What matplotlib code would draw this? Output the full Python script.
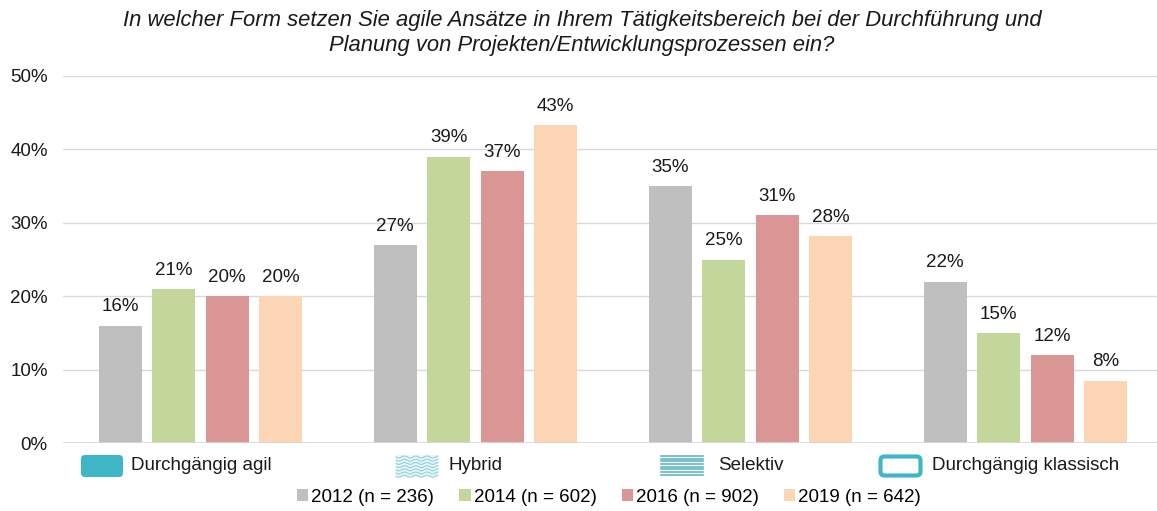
import matplotlib
matplotlib.use("Agg")
import matplotlib.pyplot as plt
import numpy as np
from matplotlib.patches import FancyBboxPatch, Rectangle

plt.rcParams["font.family"] = ["Liberation Sans", "DejaVu Sans"]

TITLE = ("In welcher Form setzen Sie agile Ansätze in Ihrem Tätigkeitsbereich bei der Durchführung und\n"
         "Planung von Projekten/Entwicklungsprozessen ein?")

categories = ["Durchgängig agil", "Hybrid", "Selektiv", "Durchgängig klassisch"]
series = ["2012 (n = 236)", "2014 (n = 602)", "2016 (n = 902)", "2019 (n = 642)"]
values_2012 = [16, 27, 35, 22]
values_2014 = [21, 39, 25, 15]
values_2016 = [20, 37, 31, 12]
values_2019 = [20, 43.3, 28.2, 8.5]
labels_2019 = ["20%", "43%", "28%", "8%"]

COLORS = ["#BFBFBF", "#C4D79B", "#D99694", "#FCD5B5"]
TEAL = "#3FB6C6"
FS = 13.5

W, H = 1157, 511
fig = plt.figure(figsize=(W / 100, H / 100), dpi=100)
fig.patch.set_facecolor("white")

ax = fig.add_axes([63 / W, (H - 443) / H, 1100 / W, 367 / H])
x = np.arange(len(categories))
step, width = 0.1945, 0.158
all_vals = [values_2012, values_2014, values_2016, values_2019]
for i, (vals, col, name) in enumerate(zip(all_vals, COLORS, series)):
    pos = x + (i - 1.5) * step
    bars = ax.bar(pos, vals, width=width, color=col, label=name, zorder=3)
    if i == 3:
        labs = labels_2019
    else:
        labs = [f"{v:.0f}%" for v in vals]
    for b, lab in zip(bars, labs):
        ax.text(b.get_x() + b.get_width() / 2, b.get_height() + 1.4, lab,
                ha="center", va="bottom", fontsize=FS, color="#1a1a1a")

ax.set_xlim(-0.5, 3.5)
ax.set_ylim(0, 50)
ax.set_yticks(range(0, 51, 10))
ax.set_yticklabels([f"{t}%" for t in range(0, 51, 10)], fontsize=FS, color="#1a1a1a")
ax.set_xticks([])
ax.tick_params(axis="y", length=0, pad=11)
ax.grid(axis="y", color="#D9D9D9", linewidth=1, zorder=0)
for s in ax.spines.values():
    s.set_visible(False)
ax.axhline(0, color="#D9D9D9", linewidth=1.2, zorder=4)

fig.text(582 / W, 1 - 33 / H, TITLE, ha="center", va="center", fontsize=15.8,
         style="italic", linespacing=1.22, color="#1a1a1a")

# category icons in pixel coordinates
ov = fig.add_axes([0, 0, 1, 1], zorder=5)
ov.set_xlim(0, W)
ov.set_ylim(H, 0)
ov.axis("off")
ov.patch.set_alpha(0)

y0, y1 = 455, 477
icons = [(81, 123, 131), (396, 438, 449), (661, 703, 718), (879, 922, 932)]

# Durchgängig agil: solid
ov.add_patch(FancyBboxPatch((icons[0][0], y0), icons[0][1] - icons[0][0], y1 - y0,
                            boxstyle="round,pad=0,rounding_size=4", fc=TEAL, ec="none"))
# Hybrid: wavy pattern
xa, xb = icons[1][0], icons[1][1]
ov.add_patch(Rectangle((xa, y0), xb - xa, y1 - y0, fc="#EAF6F8", ec="none"))
xs = np.linspace(xa, xb, 60)
for yy in np.arange(y0 + 2, y1, 3.2):
    ov.plot(xs, yy + 1.0 * np.sin((xs - xa) / 1.8), color="#8FD0DA", lw=0.8)
# Selektiv: horizontal stripes
xa, xb = icons[2][0], icons[2][1]
ov.add_patch(FancyBboxPatch((xa, y0), xb - xa, y1 - y0,
                            boxstyle="round,pad=0,rounding_size=3", fc="white", ec="none"))
for yy in np.arange(y0 + 1, y1, 2.7):
    ov.plot([xa, xb], [yy, yy], color="#4FAFC0", lw=1.1)
# Durchgängig klassisch: outline
xa, xb = icons[3][0], icons[3][1]
ov.add_patch(FancyBboxPatch((xa + 1.5, y0 + 1.5), xb - xa - 3, y1 - y0 - 3,
                            boxstyle="round,pad=0,rounding_size=4", fc="white", ec=TEAL, lw=3))

for (xa, xb, xt), cat in zip(icons, categories):
    ov.text(xt, (y0 + y1) / 2, cat, ha="left", va="center", fontsize=FS, color="#1a1a1a")

fig.legend(loc="center", bbox_to_anchor=(609 / W, 1 - 497 / H), ncol=4, frameon=False,
           fontsize=FS, handlelength=0.6, handleheight=0.6, handletextpad=0.15,
           columnspacing=1.35, borderaxespad=0)

fig.savefig("out.png", dpi=100, facecolor="white")
